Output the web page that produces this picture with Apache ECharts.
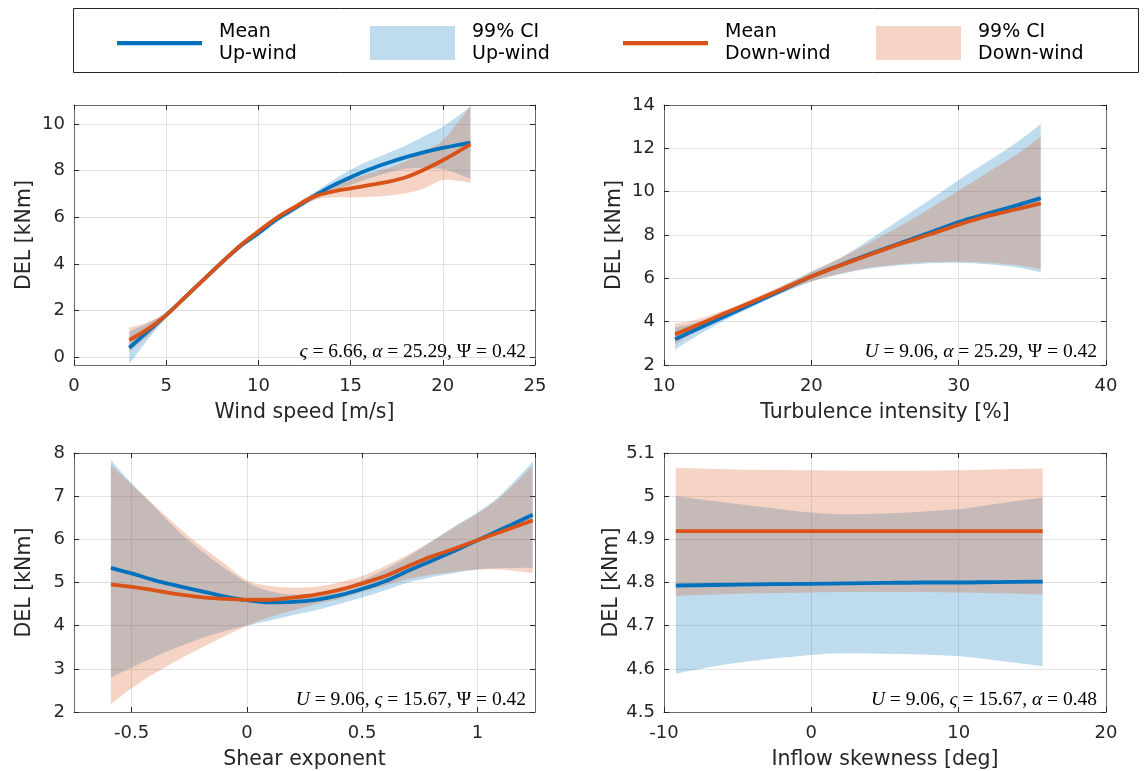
<!DOCTYPE html>
<html><head><meta charset="utf-8">
<script src="https://cdn.jsdelivr.net/npm/echarts@6/dist/echarts.min.js"></script>
<style>html,body{margin:0;padding:0;background:#fff}#c{width:1146px;height:771px}</style>
</head><body><div id="c"></div><script>
// ---------- Panel 1: wind speed ----------
const windX        = [3, 4, 5, 6, 7, 8, 9, 10, 11, 12, 13, 14, 15, 16, 17, 18, 19, 20, 21, 21.5];
const windUpMean   = [0.40, 1.10, 1.80, 2.55, 3.30, 4.05, 4.75, 5.32, 5.92, 6.40, 6.90, 7.35, 7.72, 8.05, 8.33, 8.58, 8.80, 8.98, 9.13, 9.21];
const windUpLo     = [-0.30, 0.75, 1.68, 2.45, 3.20, 3.95, 4.65, 5.20, 5.80, 6.27, 6.75, 7.13, 7.40, 7.67, 7.91, 8.08, 8.11, 8.07, 7.81, 7.65];
const windUpHi     = [1.10, 1.45, 1.92, 2.65, 3.40, 4.15, 4.85, 5.44, 6.04, 6.53, 7.05, 7.57, 8.04, 8.43, 8.75, 9.08, 9.49, 9.89, 10.45, 10.77];
const windDnMean   = [0.73, 1.20, 1.80, 2.55, 3.30, 4.05, 4.78, 5.40, 5.98, 6.45, 6.88, 7.10, 7.24, 7.38, 7.52, 7.72, 8.05, 8.45, 8.90, 9.14];
const windDnLo     = [0.23, 0.90, 1.70, 2.45, 3.20, 3.95, 4.68, 5.30, 5.88, 6.33, 6.73, 6.85, 6.85, 6.88, 6.93, 7.03, 7.25, 7.60, 7.55, 7.50];
const windDnHi     = [1.27, 1.50, 1.90, 2.65, 3.40, 4.15, 4.88, 5.50, 6.08, 6.57, 7.03, 7.35, 7.63, 7.88, 8.11, 8.41, 8.85, 9.30, 10.25, 10.78];

// ---------- Panel 2: turbulence intensity ----------
const tiX          = [10.75, 12, 14, 16, 18, 20, 22, 24, 26, 28, 30, 32, 34, 35.57];
const tiUpMean     = [3.19, 3.58, 4.20, 4.83, 5.45, 6.08, 6.62, 7.13, 7.62, 8.10, 8.60, 9.00, 9.38, 9.70];
const tiUpLo       = [2.72, 3.25, 4.02, 4.68, 5.30, 5.85, 6.20, 6.45, 6.60, 6.70, 6.72, 6.65, 6.50, 6.28];
const tiUpHi       = [3.75, 3.92, 4.38, 4.98, 5.62, 6.30, 6.95, 7.80, 8.70, 9.60, 10.54, 11.40, 12.30, 13.12];
const tiDnMean     = [3.42, 3.77, 4.35, 4.92, 5.50, 6.08, 6.60, 7.10, 7.58, 8.02, 8.48, 8.88, 9.20, 9.46];
const tiDnLo       = [2.95, 3.48, 4.20, 4.80, 5.35, 5.85, 6.22, 6.50, 6.65, 6.75, 6.78, 6.72, 6.60, 6.42];
const tiDnHi       = [3.92, 4.05, 4.50, 5.05, 5.65, 6.30, 6.95, 7.65, 8.40, 9.20, 10.05, 10.90, 11.75, 12.54];

// ---------- Panel 3: shear exponent ----------
const shX          = [-0.59, -0.5, -0.4, -0.3, -0.2, -0.1, 0, 0.1, 0.2, 0.3, 0.4, 0.5, 0.6, 0.7, 0.8, 0.9, 1.0, 1.1, 1.24];
const shUpMean     = [5.34, 5.21, 5.05, 4.92, 4.80, 4.68, 4.59, 4.54, 4.55, 4.60, 4.70, 4.85, 5.03, 5.27, 5.50, 5.73, 5.98, 6.22, 6.57];
const shUpLo       = [2.80, 3.03, 3.28, 3.50, 3.70, 3.87, 4.00, 4.12, 4.25, 4.36, 4.50, 4.65, 4.82, 5.00, 5.12, 5.22, 5.30, 5.33, 5.34];
const shUpHi       = [7.84, 7.30, 6.75, 6.20, 5.75, 5.35, 5.00, 4.80, 4.72, 4.75, 4.85, 5.05, 5.30, 5.60, 5.95, 6.30, 6.62, 7.02, 7.80];
const shDnMean     = [4.95, 4.90, 4.82, 4.73, 4.66, 4.62, 4.60, 4.60, 4.65, 4.72, 4.83, 4.98, 5.15, 5.38, 5.60, 5.78, 5.98, 6.17, 6.44];
const shDnLo       = [2.18, 2.55, 2.90, 3.20, 3.48, 3.75, 4.00, 4.20, 4.35, 4.50, 4.62, 4.78, 4.93, 5.08, 5.18, 5.25, 5.30, 5.30, 5.22];
const shDnHi       = [7.72, 7.27, 6.78, 6.30, 5.85, 5.45, 5.05, 4.92, 4.88, 4.90, 5.00, 5.15, 5.38, 5.65, 5.95, 6.28, 6.60, 6.98, 7.70];

// ---------- Panel 4: inflow skewness ----------
const skX          = [-9.2, -5, 0, 2.5, 5, 7.5, 10, 12.5, 15.7];
const skUpMean     = [4.793, 4.795, 4.797, 4.798, 4.799, 4.800, 4.800, 4.801, 4.802];
const skUpLo       = [4.589, 4.614, 4.632, 4.636, 4.635, 4.633, 4.629, 4.620, 4.606];
const skUpHi       = [5.000, 4.982, 4.962, 4.958, 4.960, 4.964, 4.970, 4.982, 4.997];
const skDnMean     = [4.919, 4.919, 4.919, 4.919, 4.919, 4.919, 4.919, 4.919, 4.919];
const skDnLo       = [4.769, 4.774, 4.777, 4.778, 4.778, 4.778, 4.777, 4.775, 4.772];
const skDnHi       = [5.066, 5.062, 5.060, 5.059, 5.059, 5.059, 5.060, 5.062, 5.064];

// ---------- labels ----------
const seriesNames = ['Mean\nUp-wind', '99% CI\nUp-wind', 'Mean\nDown-wind', '99% CI\nDown-wind'];
const xNames = ['Wind speed [m/s]', 'Turbulence intensity [%]', 'Shear exponent', 'Inflow skewness [deg]'];
const yName = 'DEL [kNm]';
const annotations = [
  '{i|ς} = 6.66, {i|α} = 25.29, Ψ = 0.42',
  '{i|U} = 9.06, {i|α} = 25.29, Ψ = 0.42',
  '{i|U} = 9.06, {i|ς} = 15.67, Ψ = 0.42',
  '{i|U} = 9.06, {i|ς} = 15.67, {i|α} = 0.48'
];

// ---------- styling / layout ----------
const BLUE = '#0072BD', ORANGE = '#D95319';
const FONT = 'DejaVu Sans';
const grids = [
  {left: 74, top: 105, width: 461, height: 260},
  {left: 664, top: 105, width: 442, height: 260},
  {left: 74, top: 453, width: 461, height: 260},
  {left: 664, top: 453, width: 442, height: 260}
];
const xRanges = [
  {min: 0, max: 25, interval: 5},
  {min: 10, max: 40, interval: 10},
  {min: -0.75, max: 1.25, splitNumber: 4},
  {min: -10, max: 20, interval: 10}
];
const yRanges = [
  {min: -0.34, max: 10.82, splitNumber: 5},
  {min: 2, max: 14, interval: 2},
  {min: 2, max: 8, interval: 1},
  {min: 4.5, max: 5.1, interval: 0.1}
];
const panels = [
  [windX, windUpMean, windUpLo, windUpHi, windDnMean, windDnLo, windDnHi],
  [tiX, tiUpMean, tiUpLo, tiUpHi, tiDnMean, tiDnLo, tiDnHi],
  [shX, shUpMean, shUpLo, shUpHi, shDnMean, shDnLo, shDnHi],
  [skX, skUpMean, skUpLo, skUpHi, skDnMean, skDnLo, skDnHi]
];

function axisBase(range, gi) {
  const a = Object.assign({type: 'value', gridIndex: gi}, range);
  a.axisLine = {show: true, onZero: false, lineStyle: {color: '#6a6a6a', width: 1}};
  a.axisTick = {show: true, inside: true, length: 5, lineStyle: {color: '#262626', width: 1}};
  return a;
}
const xAxes = [], yAxes = [];
for (let i = 0; i < 4; i++) {
  const fixedX = xRanges[i].interval !== undefined, fixedY = yRanges[i].interval !== undefined;
  const xb = axisBase(xRanges[i], i);
  xb.position = 'bottom';
  xb.axisLabel = {color: '#262626', fontSize: 18, fontFamily: FONT, margin: 12,
                  showMinLabel: fixedX, showMaxLabel: fixedX};
  xb.splitLine = {show: true, lineStyle: {color: '#e2e2e2', width: 1}};
  xb.name = xNames[i]; xb.nameLocation = 'middle'; xb.nameGap = 37;
  xb.nameTextStyle = {color: '#262626', fontSize: 20.5, fontFamily: FONT};
  xAxes.push(xb);
  const yb = axisBase(yRanges[i], i);
  yb.position = 'left';
  yb.axisLabel = {color: '#262626', fontSize: 18, fontFamily: FONT, margin: 9,
                  showMinLabel: fixedY, showMaxLabel: fixedY};
  yb.splitLine = {show: true, lineStyle: {color: '#e2e2e2', width: 1}};
  yb.name = yName; yb.nameLocation = 'middle'; yb.nameGap = 39;
  yb.nameTextStyle = {color: '#262626', fontSize: 20.5, fontFamily: FONT};
  yAxes.push(yb);
}
for (let i = 0; i < 4; i++) {
  const xt = axisBase(xRanges[i], i);
  xt.position = 'top'; xt.axisLabel = {show: false}; xt.splitLine = {show: false};
  xAxes.push(xt);
  const yr = axisBase(yRanges[i], i);
  yr.position = 'right'; yr.axisLabel = {show: false}; yr.splitLine = {show: false};
  yAxes.push(yr);
}

// smooth chain (Catmull-Rom -> cubic Bezier) through pixel points given by the axes
function chain(pts, start) {
  const f = p => p[0].toFixed(2) + ' ' + p[1].toFixed(2);
  let d = (start ? 'M' : 'L') + f(pts[0]);
  for (let i = 0; i < pts.length - 1; i++) {
    const p0 = pts[i - 1] || pts[i], p1 = pts[i], p2 = pts[i + 1], p3 = pts[i + 2] || pts[i + 1];
    const c1 = [p1[0] + (p2[0] - p0[0]) / 6, p1[1] + (p2[1] - p0[1]) / 6];
    const c2 = [p2[0] - (p3[0] - p1[0]) / 6, p2[1] - (p3[1] - p1[1]) / 6];
    d += 'C' + f(c1) + ' ' + f(c2) + ' ' + f(p2);
  }
  return d;
}
function bandSeries(name, gi, x, lo, hi, color, rgba) {
  return {
    type: 'custom', name: name, xAxisIndex: gi, yAxisIndex: gi, silent: true, clip: true,
    itemStyle: {color: color},
    data: x.map((v, k) => [v, lo[k], hi[k]]),
    encode: {x: 0, y: [1, 2]},
    renderItem: function (params, api) {
      if (params.dataIndexInside !== 0) return null;
      const n = params.dataInsideLength;
      const up = [], dn = [];
      for (let k = 0; k < n; k++) up.push(api.coord([api.value(0, k), api.value(2, k)]));
      for (let k = n - 1; k >= 0; k--) dn.push(api.coord([api.value(0, k), api.value(1, k)]));
      const d = chain(up, true) + chain(dn, false) + 'Z';
      return {type: 'path', shape: {pathData: d}, style: {fill: rgba, stroke: null}};
    }
  };
}
function meanSeries(name, gi, x, m, color) {
  return {
    type: 'line', name: name, xAxisIndex: gi, yAxisIndex: gi,
    data: x.map((v, k) => [v, m[k]]),
    showSymbol: false, symbol: 'none', smooth: 0.35, silent: true,
    lineStyle: {width: 3.8, color: color}, itemStyle: {color: color},
    emphasis: {disabled: true}
  };
}
const series = [];
panels.forEach((p, i) => {
  const [x, um, ul, uh, dm, dl, dh] = p;
  series.push(bandSeries(seriesNames[1], i, x, ul, uh, BLUE, 'rgba(0,114,189,0.25)'));
  series.push(meanSeries(seriesNames[0], i, x, um, BLUE));
  series.push(bandSeries(seriesNames[3], i, x, dl, dh, ORANGE, 'rgba(217,83,25,0.25)'));
  series.push(meanSeries(seriesNames[2], i, x, dm, ORANGE));
});

const LINE_ICON = 'path://M0,0M0,15h85v4.2h-85zM85,34';
const legendLefts = [117, 370, 623, 876];
const legendItems = [
  {name: seriesNames[0], icon: LINE_ICON, itemStyle: {color: BLUE, borderWidth: 0}},
  {name: seriesNames[1], icon: 'rect', itemStyle: {color: '#BFDCEE', opacity: 1, borderWidth: 0}},
  {name: seriesNames[2], icon: LINE_ICON, itemStyle: {color: ORANGE, borderWidth: 0}},
  {name: seriesNames[3], icon: 'rect', itemStyle: {color: '#F5D4C5', opacity: 1, borderWidth: 0}}
];
const legends = legendItems.map((d, k) => ({
  left: legendLefts[k], top: 20, padding: 0, orient: 'horizontal',
  itemWidth: 85, itemHeight: 34, data: [d],
  textStyle: {fontSize: 19, lineHeight: 22, fontFamily: FONT, color: '#000', padding: [2, 0, 0, 12]}
}));

const graphics = [{
  type: 'rect', left: 73, top: 8, z: 0,
  shape: {x: 0, y: 0, width: 1065, height: 64},
  style: {fill: '#fff', stroke: '#262626', lineWidth: 1}
}];
const annPos = [[526, 352], [1097, 352], [526, 700], [1097, 700]];
annotations.forEach((t, k) => {
  graphics.push({
    type: 'text', x: annPos[k][0], y: annPos[k][1], z: 100,
    style: {text: t, align: 'right', verticalAlign: 'middle', fill: '#000',
            fontSize: 19.5, fontFamily: 'Liberation Serif',
            rich: {i: {fontStyle: 'italic', fontSize: 19.5, fontFamily: 'Liberation Serif', fill: '#000'}}}
  });
});

const chart = echarts.init(document.getElementById('c'), null, {renderer: 'canvas'});
chart.setOption({
  animation: false,
  backgroundColor: '#fff',
  grid: grids,
  xAxis: xAxes,
  yAxis: yAxes,
  legend: legends,
  graphic: graphics,
  series: series
});
</script></body></html>
